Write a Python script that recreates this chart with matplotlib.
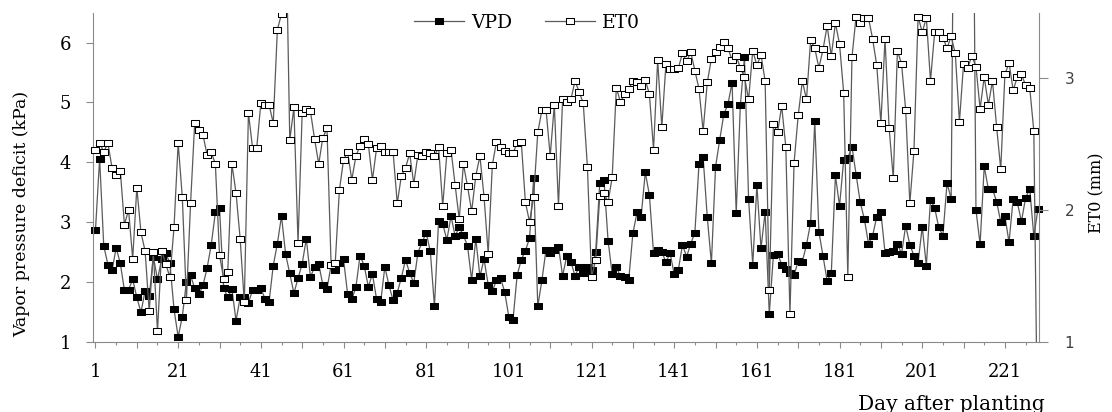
import numpy as np
import matplotlib
matplotlib.use("Agg")
import matplotlib.pyplot as plt
from matplotlib.patches import Rectangle

# ---------------- data ----------------
days = np.arange(1, 230)

vpd = [
    2.87, 4.06, 2.60, 2.29, 2.19, 2.57, 2.31, 1.86, 1.87, 2.04,
    1.74, 1.49, 1.85, 1.76, 2.42, 2.04, 2.38, 2.48, 2.31, 1.54,
    1.08, 1.42, 2.00, 2.11, 1.89, 1.79, 1.94, 2.23, 2.62, 3.16,
    3.24, 1.90, 1.74, 1.88, 1.35, 1.74, 1.74, 1.65, 1.86, 1.86,
    1.89, 1.72, 1.67, 2.27, 2.64, 3.10, 2.46, 2.14, 1.81, 2.06,
    2.30, 2.72, 2.08, 2.25, 2.30, 1.95, 1.88, 2.28, 2.20, 2.31,
    2.38, 1.79, 1.71, 1.91, 2.44, 2.27, 1.92, 2.13, 1.71, 1.67,
    2.25, 1.94, 1.69, 1.82, 2.07, 2.37, 2.15, 1.98, 2.49, 2.66,
    2.82, 2.51, 1.59, 3.02, 2.97, 2.70, 3.10, 2.77, 2.91, 2.78,
    2.60, 2.03, 2.72, 2.09, 2.38, 1.95, 1.84, 2.03, 2.06, 1.83,
    1.41, 1.36, 2.11, 2.37, 2.52, 2.73, 3.73, 1.59, 2.03, 2.54,
    2.49, 2.53, 2.59, 2.10, 2.43, 2.34, 2.10, 2.25, 2.14, 2.25,
    2.20, 2.50, 3.66, 3.71, 2.69, 2.13, 2.25, 2.09, 2.08, 2.03,
    2.81, 3.16, 3.09, 3.83, 3.45, 2.48, 2.54, 2.50, 2.33, 2.48,
    2.13, 2.20, 2.62, 2.42, 2.64, 2.82, 3.97, 4.08, 3.08, 2.31,
    3.92, 4.37, 4.80, 4.97, 5.33, 3.15, 4.95, 5.75, 3.38, 2.28,
    3.62, 2.56, 3.17, 1.46, 2.45, 2.47, 2.29, 2.21, 2.15, 2.11,
    2.35, 2.34, 2.62, 2.99, 4.69, 2.84, 2.43, 2.02, 2.14, 3.78,
    3.27, 4.04, 4.07, 4.26, 3.79, 3.33, 3.05, 2.64, 2.77, 3.09,
    3.16, 2.49, 2.50, 2.52, 2.64, 2.47, 2.94, 2.62, 2.44, 2.32,
    2.92, 2.27, 3.37, 3.24, 2.91, 2.77, 3.65, 3.39, 12.0, 12.0,
    12.0, 12.0, 12.0, 3.20, 2.63, 3.93, 3.55, 3.55, 3.34, 3.00,
    3.10, 2.66, 3.39, 3.33, 3.01, 3.40, 3.56, 2.76, 3.22,
]

et0 = [
    2.46, 2.51, 2.44, 2.51, 2.32, 2.27, 2.30, 1.89, 2.00, 1.63,
    2.17, 1.83, 1.69, 1.23, 1.68, 1.08, 1.69, 1.59, 1.49, 1.87,
    2.51, 2.10, 1.32, 2.05, 2.66, 2.61, 2.57, 2.42, 2.44, 2.35,
    1.66, 1.48, 1.53, 2.35, 2.13, 1.78, 1.30, 2.74, 2.47, 2.47,
    2.81, 2.80, 2.80, 2.66, 3.37, 3.49, 4.30, 2.53, 2.78, 1.75,
    2.74, 2.77, 2.75, 2.54, 2.35, 2.55, 2.62, 1.58, 1.60, 2.15,
    2.38, 2.44, 2.23, 2.41, 2.49, 2.54, 2.50, 2.23, 2.47, 2.49,
    2.44, 2.44, 2.44, 2.05, 2.26, 2.32, 2.43, 2.20, 2.42, 2.41,
    2.44, 2.43, 2.41, 2.48, 2.03, 2.43, 2.46, 2.19, 1.93, 2.35,
    2.18, 1.99, 2.26, 2.41, 2.10, 1.67, 2.34, 2.52, 2.48, 2.45,
    2.43, 2.43, 2.51, 2.52, 2.06, 1.91, 2.10, 2.59, 2.76, 2.76,
    2.41, 2.80, 2.03, 2.84, 2.82, 2.84, 2.98, 2.90, 2.81, 2.33,
    1.49, 1.62, 2.11, 2.13, 2.06, 2.25, 2.93, 2.82, 2.88, 2.92,
    2.98, 2.97, 2.94, 2.99, 2.88, 2.46, 3.14, 2.63, 3.11, 3.07,
    3.07, 3.08, 3.19, 3.13, 3.20, 3.06, 2.92, 2.60, 2.97, 3.15,
    3.20, 3.24, 3.28, 3.23, 3.14, 3.17, 3.08, 3.01, 2.84, 3.21,
    3.10, 3.18, 2.98, 1.39, 2.65, 2.59, 2.79, 2.48, 1.21, 2.36,
    2.72, 2.98, 2.84, 3.29, 3.23, 3.08, 3.22, 3.40, 3.17, 3.42,
    3.26, 2.89, 1.49, 3.16, 3.47, 3.42, 3.46, 3.46, 3.30, 3.10,
    2.66, 3.30, 2.62, 2.24, 3.21, 3.11, 2.76, 2.05, 2.45, 3.47,
    3.35, 3.46, 2.98, 3.35, 3.35, 3.31, 3.23, 3.32, 3.19, 2.67,
    3.11, 3.08, 3.17, 3.09, 2.77, 3.01, 2.80, 2.98, 2.63, 2.31,
    3.03, 3.12, 2.91, 3.01, 3.03, 2.95, 2.93, 2.60, 0.0,
]

x_tick_labels = ["1", "21", "41", "61", "81", "101", "121", "141",
                 "161", "181", "201", "221"]
vpd_ticks = [1, 2, 3, 4, 5, 6]
et0_ticks = [1, 2, 3]

# ---------------- figure ----------------
plt.rcParams["font.family"] = ["DejaVu Serif", "DejaVu Sans"]

W, H = 1112, 412
fig = plt.figure(figsize=(W / 100, H / 100), dpi=100)
L, R, T, B = 93.3, 1039.0, 12.6, 341.7          # axes box in pixels
ax = fig.add_axes([L / W, 1 - B / H, (R - L) / W, (B - T) / H])
ax2 = ax.twinx()

def axx(px):
    return (px - L) / (R - L)

def axy(py):
    return (B - py) / (B - T)

rect = np.array([(-1, -0.7), (1, -0.7), (1, 0.7), (-1, 0.7), (-1, -0.7)])
style = dict(color="#5a5a5a", lw=0.9, marker=rect, markersize=5.3,
             markeredgecolor="black", markeredgewidth=0.75)

l1, = ax.plot(days, vpd, markerfacecolor="black", label="VPD", **style)
l2, = ax2.plot(days, et0, markerfacecolor="white", label="ET0", **style)
for ln, a in ((l1, ax), (l2, ax2)):
    ln.set_clip_path(Rectangle((-0.012, 0.0), 1.024, 1.0, transform=a.transAxes))

ax.set_xlim(0.47, 229.25)
ax.set_ylim(1, 6.5)
ax2.set_ylim(1, 3.5)

spine_c = "#8a8a8a"
for s in ("top", "right"):
    ax.spines[s].set_visible(False)
for s in ("top", "left", "bottom"):
    ax2.spines[s].set_visible(False)
for s in ("left", "bottom"):
    ax.spines[s].set_color(spine_c)
    ax.spines[s].set_linewidth(0.8)
ax2.spines["right"].set_color(spine_c)
ax2.spines["right"].set_linewidth(0.8)

# x ticks
major = np.arange(1, days[-1] + 1, 10)
ax.set_xticks(major)
ax.set_xticklabels([str(m) if str(m) in x_tick_labels else "" for m in major])
ax.set_xticks(np.arange(6, days[-1] + 1, 10), minor=True)
ax.tick_params(axis="x", which="major", direction="out", length=4, width=0.8,
               color=spine_c, pad=11.5, labelsize=13)
ax.tick_params(axis="x", which="minor", direction="out", length=2.3, width=0.8,
               color=spine_c)

# left y ticks
ax.set_yticks(vpd_ticks)
ax.set_yticklabels([str(t) for t in vpd_ticks])
ax.tick_params(axis="y", direction="out", length=5, width=0.8, color=spine_c,
               pad=11, labelsize=13)

# right y ticks
ax2.set_yticks(et0_ticks)
ax2.set_yticklabels([str(t) for t in et0_ticks], fontfamily="DejaVu Sans",
                    color="#404040")
ax2.tick_params(axis="y", direction="out", length=6.5, width=0.8,
                color=spine_c, pad=12, labelsize=11)

# axis labels
ax.set_ylabel("Vapor pressure deficit (kPa)", fontsize=12.5, ha="center",
              va="center")
ax.yaxis.set_label_coords(axx(22), axy(214))
ax2.set_ylabel("ET0 (mm)", fontsize=11.5, ha="center", va="center",
               rotation=90)
ax2.yaxis.set_label_coords(axx(1097), axy(193))
ax.set_xlabel("Day after planting", fontsize=14.5, ha="right", va="baseline")
ax.xaxis.set_label_coords(axx(1045), axy(410))

# legend
fig.legend(handles=[l1, l2], loc="center", bbox_to_anchor=(527 / W, 1 - 23 / H),
           ncol=2, frameon=False, fontsize=13.5, handlelength=2.67,
           handletextpad=0.4, columnspacing=1.7, borderpad=0,
           borderaxespad=0, numpoints=1)

fig.savefig("out.png", dpi=100)
